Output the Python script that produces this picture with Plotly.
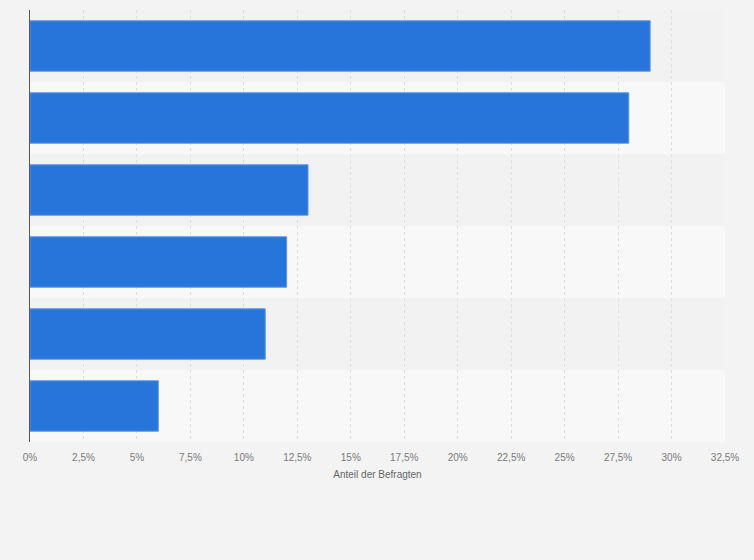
import plotly.graph_objects as go

# Daten (Kategorienamen sind im Bild ausgeblendet)
categories = ["Antwort 1", "Antwort 2", "Antwort 3", "Antwort 4", "Antwort 5", "Antwort 6"]
values = [29, 28, 13, 12, 11, 6]
tick_vals = [0, 2.5, 5, 7.5, 10, 12.5, 15, 17.5, 20, 22.5, 25, 27.5, 30, 32.5]
tick_text = ["0%", "2,5%", "5%", "7,5%", "10%", "12,5%", "15%", "17,5%",
             "20%", "22,5%", "25%", "27,5%", "30%", "32,5%"]

fig = go.Figure(
    go.Bar(
        x=values,
        y=categories,
        orientation="h",
        marker_color="#2775db",
        marker_line=dict(color="#5b97e4", width=1),
        hovertemplate="%{y}: %{x}%<extra></extra>",
    )
)

# abwechselnde Hintergrundstreifen
shapes = []
for i, cat in enumerate(categories):
    shapes.append(dict(
        type="rect", xref="paper", yref="y", layer="below",
        x0=0, x1=1, y0=i - 0.5, y1=i + 0.5,
        fillcolor="#f2f2f2" if i % 2 == 0 else "#f8f8f8",
        line_width=0,
    ))

fig.update_layout(
    width=754,
    height=560,
    paper_bgcolor="#f3f3f3",
    plot_bgcolor="#f8f8f8",
    margin=dict(l=30, r=29, t=10, b=118),
    bargap=0.3,
    shapes=shapes,
    showlegend=False,
    font=dict(family="Liberation Sans, Arial, sans-serif", color="#7a7a7a"),
)
fig.update_xaxes(
    range=[0, 32.5],
    tickvals=tick_vals,
    ticktext=tick_text,
    tickfont_size=10,
    showgrid=True,
    gridcolor="#dedede",
    griddash="dot",
    gridwidth=1,
    zeroline=False,
    title=dict(text="Anteil der Befragten", font=dict(size=10, color="#666666"), standoff=8),
    ticks="",
    ticklabelstandoff=8,
)
fig.update_yaxes(
    showticklabels=False,
    autorange="reversed",
    showline=True,
    linecolor="#555555",
    linewidth=1,
    showgrid=False,
    ticks="",
)

# Seitenrand entfernen, damit die Grafik bei 0,0 beginnt
fig.write_html(
    "out.html",
    config={"displayModeBar": False},
    post_script="document.body.style.margin='0';",
)
